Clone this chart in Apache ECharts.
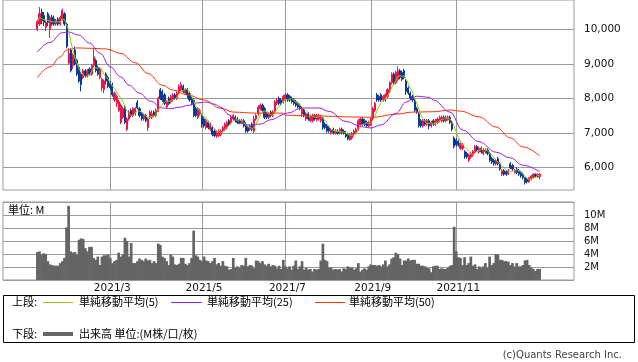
<!DOCTYPE html>
<html><head><meta charset="utf-8">
<script src="https://cdn.jsdelivr.net/npm/echarts@6/dist/echarts.min.js"></script>
<style>html,body{margin:0;padding:0;background:#fff}#c{width:638px;height:362px}</style>
</head><body><div id="c"></div>
<script>
// x positions are trading-day indices (0 = first candle, 2021/1/6)
const tickIdx = [35, 79, 119, 160, 201];
const tickLabels = ['2021/3', '2021/5', '2021/7', '2021/9', '2021/11'];
const priceTicks = [6000, 7000, 8000, 9000, 10000];

const opens = [
10000,10150,10500,10400,10050,10450,10000,10350,10300,10150,
10300,10150,10300,10450,10150,9020,9400,8950,9400,9100,
8900,8700,8600,8800,8650,8850,8700,8950,9100,8900,
8600,8300,8250,8700,8600,8450,8400,7950,7850,7650,
7300,7450,7750,7100,7400,7650,7500,7550,7880,7700,
7550,7400,7500,7150,7450,7450,7600,7500,7650,8250,
8200,8100,7750,8000,7900,7950,8100,8000,8150,8250,
8350,8150,8250,8150,8000,7950,7700,7450,7550,7500,
7400,7150,7300,7100,7150,7050,6900,6920,6950,7050,
7100,7150,7350,7300,7400,7450,7400,7350,7280,7350,
7250,7150,7100,7250,7050,7400,7550,7700,7800,7700,
7550,7450,7600,7500,7600,7850,8000,7950,7900,7950,
8100,8050,8000,7950,7900,7850,7800,7550,7650,7400,
7550,7350,7350,7500,7380,7400,7350,7430,7250,7200,
7150,7000,7100,6980,7050,7000,7100,7050,6980,6950,
6800,6850,6950,7000,7100,7230,7400,7350,7300,7200,
7250,7400,7650,8100,8050,8100,7950,7950,8050,8200,
8450,8700,8450,8550,8800,8750,8800,8500,8300,8150,
8050,7950,7700,7550,7350,7200,7350,7250,7350,7200,
7350,7250,7300,7350,7350,7450,7350,7380,7450,7300,
6850,6800,6750,6550,6550,6450,6400,6200,6300,6350,
6450,6600,6450,6550,6400,6450,6500,6400,6250,6200,
6100,6250,6100,5800,5900,5880,5800,6100,6050,5850,
5950,5900,5850,5800,5700,5650,5580,5650,5700,5800,
5720,5730];
const closes = [
10230,10450,10250,10200,10200,10200,10350,10150,10150,10250,
10150,10350,10550,10150,9500,9300,8800,9250,9000,8700,
8500,8400,8800,8650,8800,8700,8950,9200,8800,8700,
8850,8550,8500,8500,8350,8300,8100,8150,8050,7900,
7800,7700,7300,7400,7600,7500,7700,7700,7720,7500,
7400,7500,7350,7400,7600,7550,7500,7650,8000,8000,
7950,7850,7900,7850,8050,8100,8000,8150,8350,8400,
8200,8250,8100,7950,7850,7500,7500,7700,7650,7250,
7200,7350,7150,7250,6950,6920,7000,7050,7050,7150,
7250,7300,7250,7450,7500,7350,7300,7280,7350,7200,
7050,7050,7200,7100,7400,7500,7750,7800,7650,7450,
7450,7550,7500,7600,7900,7950,7850,7850,8050,8100,
7950,7950,7900,7850,7800,7750,7700,7700,7500,7550,
7400,7450,7480,7400,7500,7500,7480,7150,7150,7050,
7050,7080,7000,7050,6980,7100,7000,6980,6900,6820,
6950,6980,7050,7100,7350,7400,7250,7230,7200,7300,
7400,7700,7850,7950,7950,7950,8050,8100,8250,8450,
8700,8450,8750,8800,8600,8550,8600,8200,8150,8000,
7950,7650,7600,7200,7200,7350,7250,7350,7200,7300,
7250,7350,7400,7450,7450,7350,7450,7450,7300,7100,
6600,6650,6650,6700,6650,6300,6300,6350,6400,6450,
6600,6500,6550,6450,6500,6500,6400,6200,6150,6100,
6200,6100,5950,5900,5800,5800,5900,5980,5950,5920,
5850,5800,5750,5700,5560,5580,5700,5750,5800,5730,
5800,5800];
const lows = [
9950,10100,10150,10100,9950,10100,9750,10100,10100,10100,
10100,10100,10250,10100,9450,8980,8750,8850,8950,8650,
8450,8200,8550,8600,8600,8650,8650,8900,8750,8650,
8550,8200,8150,8400,8300,8250,8050,7900,7750,7600,
7250,7400,7250,7050,7350,7450,7450,7500,7680,7450,
7350,7350,7300,7050,7400,7400,7450,7450,7600,7950,
7900,7800,7700,7800,7850,7900,7950,7950,8100,8200,
8150,8100,8000,7900,7800,7450,7450,7400,7500,7150,
7150,7100,7100,7050,6900,6880,6850,6880,6900,7000,
7050,7100,7200,7250,7350,7300,7250,7250,7250,7150,
7000,7000,7050,7050,7000,7350,7500,7650,7600,7400,
7400,7400,7450,7450,7550,7800,7800,7800,7850,7900,
7900,7900,7850,7800,7750,7700,7650,7450,7450,7350,
7350,7300,7300,7350,7330,7350,7300,7080,7100,7000,
7000,6950,6950,6950,6950,6950,6950,6950,6850,6780,
6770,6800,6900,6950,7050,7200,7200,7200,7150,7150,
7200,7350,7600,7900,7900,7900,7900,7900,8000,8150,
8400,8400,8400,8500,8550,8500,8550,8100,8100,7950,
7900,7600,7550,7150,7150,7150,7200,7200,7100,7150,
7200,7200,7250,7300,7300,7300,7300,7350,7250,7050,
6550,6600,6600,6500,6500,6250,6250,6150,6250,6300,
6400,6450,6400,6400,6350,6400,6350,6150,6100,6050,
6050,6050,5900,5750,5750,5750,5780,5950,5900,5820,
5800,5750,5700,5650,5500,5530,5550,5620,5680,5700,
5700,5650];
const highs = [
10280,10650,10600,10500,10250,10500,10400,10420,10400,10300,
10350,10400,10600,10500,10200,9450,9450,9300,9500,9150,
8950,8750,8850,8850,8850,8900,9000,9450,9150,8950,
8900,8600,8550,8750,8650,8500,8450,8200,8100,7950,
7850,7750,7800,7450,7650,7700,7750,7750,7950,7750,
7600,7550,7550,7450,7650,7650,7650,7700,8050,8300,
8250,8150,7950,8050,8100,8150,8150,8200,8400,8470,
8400,8300,8300,8200,8050,8000,7750,7750,7700,7550,
7450,7400,7350,7300,7200,7100,7050,7100,7100,7200,
7300,7350,7400,7500,7550,7500,7450,7400,7400,7400,
7300,7200,7250,7300,7500,7550,7800,7850,7850,7750,
7600,7600,7650,7650,7950,8000,8050,8000,8100,8150,
8150,8100,8050,8000,7950,7900,7850,7750,7700,7600,
7600,7500,7550,7550,7550,7550,7520,7450,7300,7250,
7200,7120,7150,7100,7100,7150,7150,7100,7050,7000,
7000,7020,7100,7150,7400,7450,7450,7400,7350,7350,
7450,7750,7900,8150,8100,8150,8100,8150,8300,8500,
8750,8750,8800,8930,8850,8800,8850,8550,8350,8200,
8100,8000,7750,7600,7400,7400,7400,7400,7400,7350,
7400,7400,7450,7500,7500,7500,7500,7500,7500,7350,
6900,6850,6800,6750,6700,6500,6450,6400,6450,6500,
6650,6650,6600,6600,6550,6550,6550,6450,6300,6250,
6250,6300,6150,5950,5950,5920,5950,6150,6100,5950,
6000,5950,5900,5850,5720,5700,5720,5780,5830,5830,
5830,5830];
// volume in millions
const volumes = [
4.3,4.4,3.9,4.1,4.0,2.9,2.4,2.3,2.2,2.2,2.2,2.6,2.9,3.4,8.1,11.4,4.4,4.2,4.3,3.9,6.2,6.4,6.3,4.9,4.4,
5.1,5.1,3.4,3.1,3.6,2.3,3.6,3.8,3.8,3.9,3.4,2.6,2.9,3.1,4.2,3.6,3.9,6.5,6.0,3.6,5.7,2.6,2.6,2.9,
3.3,3.1,2.9,3.3,3.0,3.1,2.6,2.9,2.6,5.6,5.4,3.6,3.4,2.9,2.3,3.9,3.6,2.4,2.3,2.5,3.4,3.4,2.5,2.3,
2.6,3.4,7.6,3.8,3.6,3.1,2.9,3.6,3.0,2.9,2.6,2.9,3.4,2.4,2.6,2.2,2.9,2.2,2.1,1.6,1.7,3.4,1.9,2.1,
1.9,2.3,2.2,3.4,2.1,2.3,2.2,1.8,3.0,2.9,2.6,2.9,2.4,2.2,2.5,2.1,2.3,2.2,1.8,2.2,1.7,3.1,2.1,1.8,
2.1,1.6,2.2,3.0,1.7,
2.1,2.9,1.6,1.9,
1.6,1.7,1.3,1.7,1.6,1.7,3.0,5.6,3.1,2.9,1.9,1.9,1.6,1.7,1.6,1.7,1.3,1.8,1.7,2.1,1.9,1.9,1.6,1.8,2.6,
1.3,1.6,1.8,1.6,2.1,2.4,2.3,2.3,2.2,2.3,2.1,2.4,3.0,2.1,2.4,3.3,3.5,4.2,4.0,3.3,2.3,3.0,3.0,3.3,3.0,3.1,3.1,2.5,2.5,
2.2,2.2,2.1,1.9,1.8,1.2,2.1,2.2,2.2,1.7,1.8,1.7,1.7,1.9,2.2,2.3,8.2,4.4,3.5,3.4,2.3,3.5,2.3,2.6,3.6,2.2,2.4,1.7,2.1,
1.9,2.1,2.6,1.9,3.6,2.3,2.6,4.0,3.9,3.1,3.1,2.9,2.9,2.8,2.3,2.6,2.1,2.6,2.1,
2.1,2.3,3.0,3.1,2.3,1.9,1.7,1.4,1.7,1.7];
// moving averages: [day index, value]
const ma25 = [[0,9340],[6,9620],[12,9900],[15,9920],[20,9830],[25,9600],[30,9310],[35,8910],[40,8620],[44,8380],[49,8150],[54,7920],[60,7720],[64,7700],[68,7740],[73,7800],[77,7870],[81,7890],[85,7830],[88,7740],[92,7520],[94,7430],[97,7330],[99,7250],[102,7220],[107,7250],[112,7380],[120,7570],[127,7720],[135,7720],[140,7620],[148,7330],[156,7170],[160,7140],[165,7230],[172,7560],[177,7890],[182,8060],[188,8030],[190,7950],[198,7600],[204,7080],[212,6740],[220,6440],[227,6270],[233,6060],[241,5870]];
const ma50 = [[0,8600],[6,8910],[11,9200],[14,9400],[19,9460],[25,9450],[33,9430],[40,9300],[47,9030],[53,8720],[60,8380],[65,8240],[72,8100],[80,7950],[88,7710],[94,7600],[105,7570],[118,7570],[119,7510],[130,7490],[140,7480],[150,7460],[161,7450],[172,7540],[180,7600],[190,7610],[198,7660],[203,7630],[212,7460],[220,7170],[227,6850],[233,6590],[241,6330]];

const candleData = opens.map((o, i) => [i, o, closes[i], lows[i], highs[i]]);
const volData = volumes.map((v, i) => [i, v]);
const ma5 = closes.map((c, i) => {
  const s = closes.slice(Math.max(0, i - 4), i + 1);
  return [i, s.reduce((a, b) => a + b, 0) / s.length];
});

const GRID = '#9a9a9a';
const NUMFONT = 'DejaVu Sans';
const JPFONT = 'Noto Sans CJK JP';
const xCommon = {
  type: 'value', min: -16.5, max: 257.5,
  axisLine: { show: false },
  axisTick: { show: false, customValues: tickIdx },
  splitLine: { show: true, lineStyle: { color: GRID, width: 1 } }
};

const chart = echarts.init(document.getElementById('c'), null, { renderer: 'canvas' });
chart.setOption({
  animation: false,
  backgroundColor: '#fff',
  grid: [
    { left: 3, right: 64, top: 0, height: 190, show: true, borderColor: GRID, borderWidth: 1, backgroundColor: 'transparent' },
    { left: 3, right: 64, top: 202, height: 78, show: true, borderColor: GRID, borderWidth: 1, backgroundColor: 'transparent' }
  ],
  xAxis: [
    Object.assign({}, xCommon, { gridIndex: 0, axisLabel: { show: false, customValues: tickIdx } }),
    Object.assign({}, xCommon, { gridIndex: 1, axisLabel: {
      show: true, customValues: tickIdx, margin: 3, fontFamily: NUMFONT, fontSize: 10.5, color: '#111',
      padding: [0, 0, 0, 4],
      formatter: v => tickLabels[tickIdx.indexOf(Math.round(v))] || ''
    } })
  ],
  yAxis: [
    { type: 'value', gridIndex: 0, position: 'right', min: 5342, max: 10849,
      axisLine: { show: false },
      axisTick: { show: true, inside: false, length: 4, customValues: priceTicks, lineStyle: { color: GRID } },
      axisLabel: { customValues: priceTicks, margin: 10, fontFamily: NUMFONT, fontSize: 10.5, color: '#111',
        formatter: v => String(v).replace(/\B(?=(\d{3})+(?!\d))/g, ',') },
      splitLine: { show: true, lineStyle: { color: GRID, width: 1 } } },
    { type: 'value', gridIndex: 1, position: 'right', min: 0, max: 12, interval: 2,
      axisLine: { show: false },
      axisTick: { show: true, inside: false, length: 4, lineStyle: { color: GRID } },
      axisLabel: { showMinLabel: false, showMaxLabel: false, margin: 10, fontFamily: NUMFONT, fontSize: 10, color: '#111',
        formatter: v => v + 'M' },
      splitLine: { show: true, lineStyle: { color: GRID, width: 1 } } }
  ],
  series: [
    { type: 'candlestick', xAxisIndex: 0, yAxisIndex: 0, data: candleData, barWidth: 1.6,
      itemStyle: { color: '#f0144a', color0: '#0a3a99', borderColor: '#f0144a', borderColor0: '#0a3a99', borderWidth: 1 } },
    { type: 'line', xAxisIndex: 0, yAxisIndex: 0, data: ma50, showSymbol: false, smooth: 0.4, smoothMonotone: 'x',
      lineStyle: { color: '#ff3300', width: 1 } },
    { type: 'line', xAxisIndex: 0, yAxisIndex: 0, data: ma25, showSymbol: false, smooth: 0.4, smoothMonotone: 'x',
      lineStyle: { color: '#9b1cf0', width: 1 } },
    { type: 'line', xAxisIndex: 0, yAxisIndex: 0, data: ma5, showSymbol: false,
      lineStyle: { color: '#99cc00', width: 1 } },
    { type: 'bar', xAxisIndex: 1, yAxisIndex: 1, data: volData, barWidth: 2.7,
      itemStyle: { color: '#646464' } }
  ],
  graphic: [
    { type: 'text', x: 8, y: 210, style: { text: '単位: M', font: '11px "' + JPFONT + '"', fill: '#000', verticalAlign: 'middle' } },
    { type: 'rect', shape: { x: 3.5, y: 295.5, width: 631, height: 47 }, style: { fill: 'none', stroke: '#000', lineWidth: 1 } },
    { type: 'text', x: 12, y: 302, style: { text: '上段:', font: '11px "' + JPFONT + '"', fill: '#000', verticalAlign: 'middle' } },
    { type: 'line', shape: { x1: 43, y1: 302.5, x2: 73, y2: 302.5 }, style: { stroke: '#99cc00', lineWidth: 1 } },
    { type: 'text', x: 79, y: 302, style: { text: '単純移動平均(5)', font: '11px "' + JPFONT + '"', fill: '#000', verticalAlign: 'middle' } },
    { type: 'line', shape: { x1: 171, y1: 302.5, x2: 202, y2: 302.5 }, style: { stroke: '#9b1cf0', lineWidth: 1 } },
    { type: 'text', x: 207, y: 302, style: { text: '単純移動平均(25)', font: '11px "' + JPFONT + '"', fill: '#000', verticalAlign: 'middle' } },
    { type: 'line', shape: { x1: 315, y1: 302.5, x2: 345, y2: 302.5 }, style: { stroke: '#ff3300', lineWidth: 1 } },
    { type: 'text', x: 349, y: 302, style: { text: '単純移動平均(50)', font: '11px "' + JPFONT + '"', fill: '#000', verticalAlign: 'middle' } },
    { type: 'text', x: 12, y: 334, style: { text: '下段:', font: '11px "' + JPFONT + '"', fill: '#000', verticalAlign: 'middle' } },
    { type: 'line', shape: { x1: 43, y1: 334, x2: 73, y2: 334 }, style: { stroke: '#666666', lineWidth: 4 } },
    { type: 'text', x: 79, y: 334, style: { text: '出来高 単位:(M株/口/枚)', font: '11px "' + JPFONT + '"', fill: '#000', verticalAlign: 'middle' } },
    { type: 'text', x: 622, y: 355, style: { text: '(c)Quants Research Inc.', font: '10px "' + NUMFONT + '"', fill: '#444', align: 'right', verticalAlign: 'middle' } }
  ]
});
</script></body></html>
